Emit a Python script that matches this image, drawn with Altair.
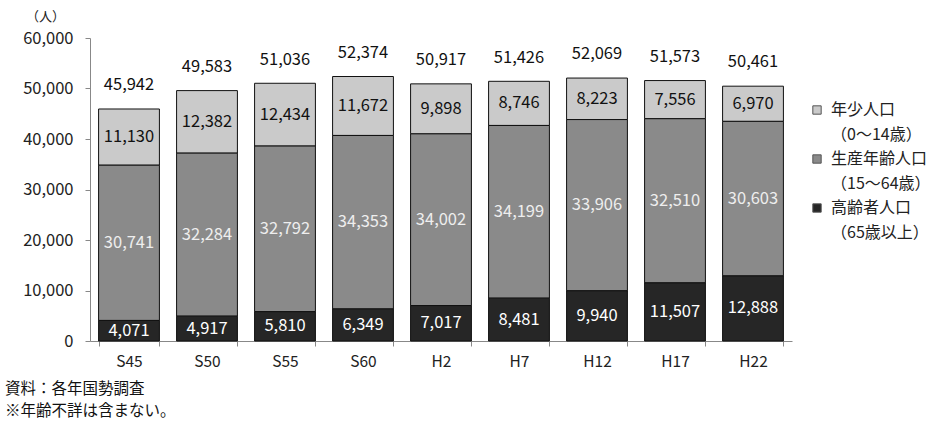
import altair as alt
import pandas as pd

years = ["S45", "S50", "S55", "S60", "H2", "H7", "H12", "H17", "H22"]
young = [11130, 12382, 12434, 11672, 9898, 8746, 8223, 7556, 6970]
working = [30741, 32284, 32792, 34353, 34002, 34199, 33906, 32510, 30603]
elderly = [4071, 4917, 5810, 6349, 7017, 8481, 9940, 11507, 12888]
totals = [45942, 49583, 51036, 52374, 50917, 51426, 52069, 51573, 50461]

groups = ["年少人口|（0～14歳）", "生産年齢人口|（15～64歳）", "高齢者人口|（65歳以上）"]
colors = ["#cacaca", "#8a8a8a", "#262626"]
label_colors = ["#111111", "#eeeeee", "#ffffff"]

rows = []
for i, y in enumerate(years):
    base = 0
    for g, vals, lc, order in [(groups[2], elderly, label_colors[2], 3),
                               (groups[1], working, label_colors[1], 2),
                               (groups[0], young, label_colors[0], 1)]:
        v = vals[i]
        rows.append({"year": y, "group": g, "value": v, "y0": base, "y1": base + v,
                     "mid": base + v / 2, "lc": lc, "order": order})
        base += v
df = pd.DataFrame(rows)
tot = pd.DataFrame({"year": years, "total": totals})

FONT = "Noto Sans CJK JP"
NUM = 16.5
xenc = alt.X("year:N", sort=years,
             scale=alt.Scale(paddingInner=0.22, paddingOuter=0.11),
             axis=alt.Axis(title=None, labelAngle=0, tickBand="extent", labelPadding=8,
                           domainColor="#888888", tickColor="#888888", tickSize=5,
                           labelFontSize=15.5, labelColor="#222222", labelFont=FONT))

bars = alt.Chart(df).mark_bar(stroke="#111111", strokeWidth=1).encode(
    x=xenc,
    y=alt.Y("y0:Q", scale=alt.Scale(domain=[0, 60000]),
            axis=alt.Axis(title="（人）", titleAngle=0, titleX=-45, titleY=-22,
                          titleAlign="center", titleBaseline="middle", titleFontSize=13,
                          titleFontWeight="normal", titleFont=FONT, titleColor="#222222",
                          values=[0, 10000, 20000, 30000, 40000, 50000, 60000],
                          format=",d", grid=False, domainColor="#888888", tickColor="#888888",
                          tickSize=5, labelFontSize=NUM, labelColor="#222222", labelFont=FONT,
                          labelPadding=12)),
    y2="y1:Q",
    fill=alt.Fill("group:N", sort=groups,
                  scale=alt.Scale(domain=groups, range=colors),
                  legend=alt.Legend(title=None, orient="none", legendX=719, legendY=64,
                                    symbolType="square", symbolSize=70, symbolStrokeColor="#555555",
                                    symbolStrokeWidth=1, labelFontSize=16, labelFont=FONT,
                                    labelColor="#222222", labelExpr="split(datum.label, '|')",
                                    rowPadding=8, labelOffset=6)),
    order=alt.Order("order:Q"),
)

seg_labels = alt.Chart(df).mark_text(fontSize=NUM, font=FONT, baseline="middle").encode(
    x=alt.X("year:N", sort=years),
    y="mid:Q",
    text=alt.Text("value:Q", format=",d"),
    color=alt.Color("lc:N", scale=None),
)

tot_labels = alt.Chart(tot).transform_calculate(
    pos="min(datum.total + 4700, 58000)"
).mark_text(fontSize=NUM, font=FONT, baseline="middle", color="#111111").encode(
    x=alt.X("year:N", sort=years),
    y="pos:Q",
    text=alt.Text("total:Q", format=",d"),
)

chart = alt.layer(bars, seg_labels, tot_labels).properties(
    width=702, height=303,
    autosize=alt.AutoSizeParams(type="none"),
    padding={"left": 90, "top": 38, "right": 157, "bottom": 80},
    title=alt.TitleParams(text=["資料：各年国勢調査", "※年齢不詳は含まない。"], orient="bottom",
                          anchor="start", frame="group", dx=-85, offset=12, fontSize=15.5,
                          fontWeight="normal", font=FONT, color="#111111", lineHeight=22),
    background="white",
).configure(
    style={"guide-label": {"lineHeight": 25}}
).configure_view(stroke=None)

chart.save("out.html", embed_options={"renderer": "svg", "actions": False})
